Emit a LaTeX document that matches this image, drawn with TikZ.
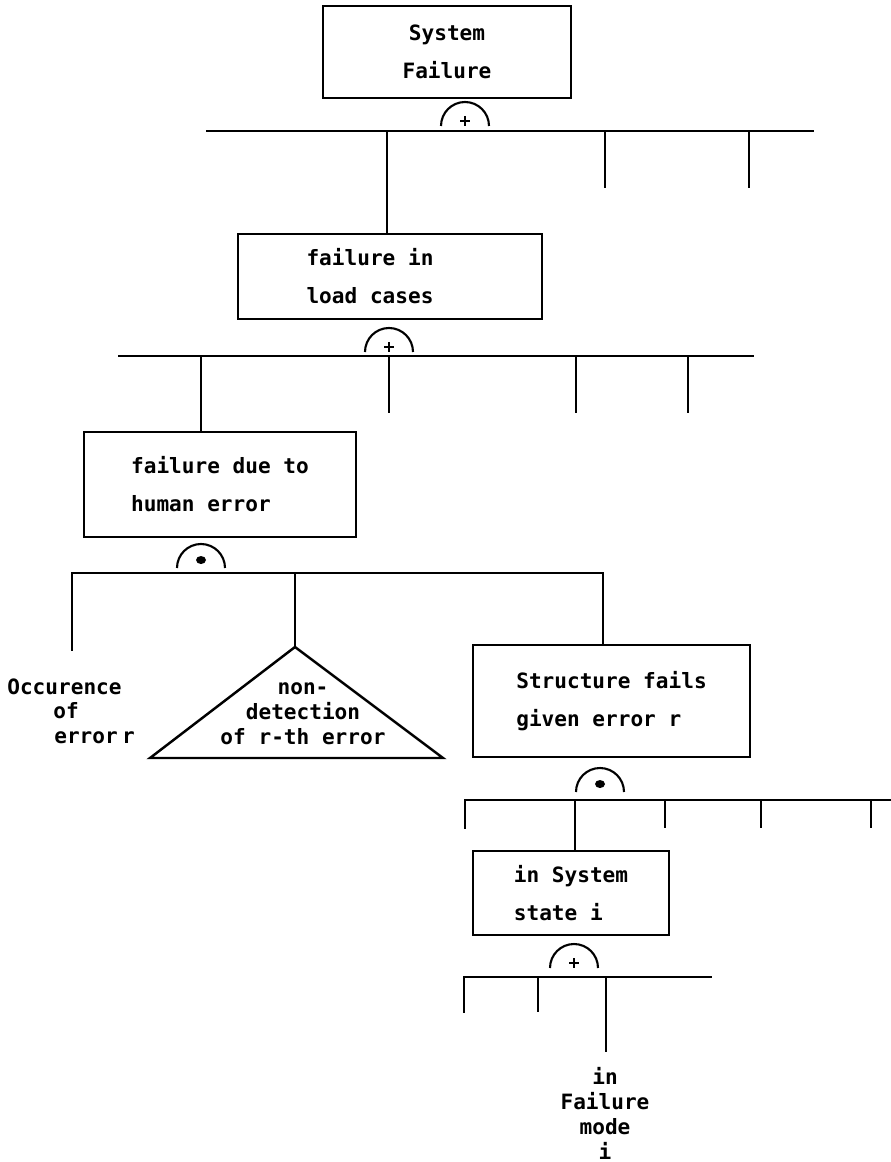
\documentclass[tikz,border=0pt]{standalone}
\usepackage{fontspec}
\setmonofont{DejaVu Sans Mono}
\newcommand{\pxunit}{0.02cm}
\tikzset{
    event/.style={draw, line width=1.4pt, inner sep=0pt, align=left,
        font=\ttfamily\bfseries\fontsize{12}{21.6}\selectfont},
    note/.style={inner sep=0pt, font=\ttfamily\bfseries\fontsize{12}{14.2}\selectfont},
    bar/.style={line width=1.6pt, line cap=rect},
    stem/.style={line width=1.4pt},
}
\NewDocumentCommand{\drawgate}{s m m}{
    \def\gateX{#2}
    \def\gateY{#3}
    \draw[line width=1.2pt] (\gateX-24,\gateY) arc [start angle=180, end angle=360, radius=24];
    % AND gate gets a dot, OR gate a plus
    \IfBooleanTF{#1}{
        \fill (\gateX,\gateY-8) ellipse [x radius=5, y radius=4];
    }{
        \draw[line width=1.3pt] (\gateX-5,\gateY-5) -- (\gateX+5,\gateY-5) (\gateX,\gateY-10) -- (\gateX,\gateY);
    }
}
\begin{document}
\begin{tikzpicture}[x=0.02cm, y=-0.02cm]
    \useasboundingbox (0,0) rectangle (891,1162);

    % Top event
    \node[event, align=center, minimum width=248*\pxunit, minimum height=92*\pxunit] (sysfail) at (447,52) {System\\Failure};
    \drawgate{465}{126}
    \coordinate (bar1w) at (207,131);
    \coordinate (bar1e) at (813,131);
    \draw[bar] (bar1w) -- (bar1e);
    \coordinate (s1) at (387,131);
    \foreach \sx [count=\i] in {605,749} {
        \coordinate (t1\i) at (\sx,188);
        \draw[stem] (t1\i |- bar1w) -- (t1\i);
    }

    % Load cases
    \node[event, minimum width=304*\pxunit, minimum height=85*\pxunit] (loadcases) at (390,276.5) {failure in\hspace*{0.8cm}\\load cases};
    \draw[stem] (s1) -- (s1 |- loadcases.north);
    \drawgate{389}{352}
    \coordinate (bar2w) at (119,356);
    \coordinate (bar2e) at (753,356);
    \draw[bar] (bar2w) -- (bar2e);
    \coordinate (s2) at (201,356);
    \foreach \sx [count=\i] in {389,576,688} {
        \coordinate (t2\i) at (\sx,413);
        \draw[stem] (t2\i |- bar2w) -- (t2\i);
    }

    % Human error
    \node[event, minimum width=272*\pxunit, minimum height=105*\pxunit] (humanerr) at (220,484.5) {failure due to\\human error};
    \draw[stem] (s2) -- (s2 |- humanerr.north);
    \drawgate*{201}{568}
    \coordinate (occurEnd) at (72,650);
    \coordinate (bar3e) at (603,573);
    \node[note, align=left, anchor=north west] (occur) at (7,678) {Occurence\\\hspace*{0.92cm}of\\\hspace*{0.94cm}error\kern0.2em r};

    % Non-detection triangle
    \coordinate (triTop) at (295,647);
    \coordinate (triL) at (150,758);
    \coordinate (triR) at (443,758);
    \draw[stem] (triTop) -- (triL) -- (triR) -- cycle;
    \node[note, align=center, anchor=north] (nondet) at (303,682) {non-\\detection\\of r-th error};
    \draw[stem] (triTop |- bar3e) -- (triTop);

    % Structure fails
    \node[event, minimum width=277*\pxunit, minimum height=112*\pxunit] (structfail) at (611.5,701) {Structure fails\\given error r};
    \draw[bar] (occurEnd) |- (bar3e) -- (bar3e |- structfail.north);
    \drawgate*{600}{792}
    \coordinate (t4a) at (465,828);
    \coordinate (bar4e) at (891,800);
    \draw[bar] (t4a) |- (bar4e);
    \coordinate (s4) at (575,800);
    \foreach \sx [count=\i] in {665,761,871} {
        \coordinate (t4\i) at (\sx,828);
        \draw[stem] (t4\i |- bar4e) -- (t4\i);
    }

    % System state
    \node[event, minimum width=196*\pxunit, minimum height=84*\pxunit] (sysstate) at (571,893) {in System\\state i};
    \draw[stem] (s4) -- (s4 |- sysstate.north);
    \drawgate{574}{968}
    \coordinate (t5a) at (464,1012);
    \coordinate (bar5e) at (711,977);
    \draw[bar] (t5a) |- (bar5e);
    \coordinate (t5b) at (538,1012);
    \draw[stem] (t5b |- bar5e) -- (t5b);
    \coordinate (fmodeEnd) at (606,1052);
    \draw[stem] (fmodeEnd |- bar5e) -- (fmodeEnd);
    \node[note, align=center, anchor=north] (fmode) at (605,1067) {in\\Failure\\mode\\i};
\end{tikzpicture}
\end{document}
